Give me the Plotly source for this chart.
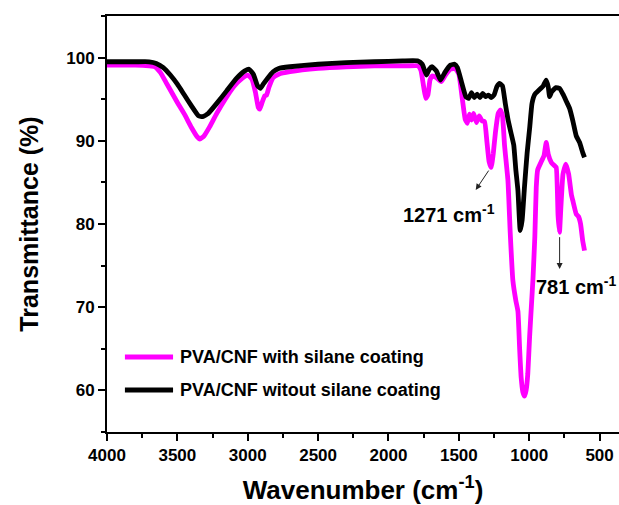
import plotly.graph_objects as go

# ---------------- data ----------------
wn_coated = [4000, 3800, 3700, 3660, 3620, 3580, 3540, 3500, 3450, 3400, 3360, 3340,
             3310, 3270, 3220, 3160, 3100, 3040, 3000, 2970, 2945, 2925, 2915, 2900,
             2880, 2866, 2850, 2820, 2780, 2700, 2500, 2300, 2100, 1900, 1790, 1770,
             1750, 1735, 1720, 1705, 1690, 1660, 1625, 1595, 1560, 1525, 1500, 1475,
             1455, 1440, 1425, 1410, 1395, 1375, 1355, 1335, 1317, 1300, 1285, 1270,
             1255, 1240, 1220, 1205, 1190, 1175, 1151, 1135, 1116, 1095, 1080, 1068,
             1057, 1045, 1033, 1022, 1010, 997, 985, 973, 960, 950, 940, 914, 895,
             879, 865, 843, 820, 808, 795, 785, 775, 760, 740, 720, 700, 690, 666,
             650, 635, 620, 607]
t_coated = [99.1, 99.1, 99.0, 98.9, 98.2, 97.0, 95.8, 94.6, 93.2, 91.6, 90.5, 90.2,
            90.6, 91.7, 93.3, 95.0, 96.5, 97.5, 97.9, 97.4, 95.8, 94.0, 93.8, 94.5,
            95.4, 95.5, 96.4, 97.6, 98.0, 98.3, 98.7, 98.9, 99.0, 99.0, 99.0, 98.5,
            96.5, 95.1, 95.5, 97.3, 97.8, 97.6, 97.1, 97.9, 98.6, 98.7, 98.0, 95.0,
            92.6, 92.1, 93.2, 92.5, 93.3, 92.2, 93.0, 92.4, 92.3, 89.8, 87.5, 86.8,
            88.5, 91.0, 93.3, 93.7, 93.0, 89.4, 85.2, 79.0, 73.2, 70.8, 69.5, 65.0,
            61.5, 59.8, 59.3, 60.0, 62.0, 66.5, 70.0, 73.5, 78.5, 84.4, 86.5, 87.5,
            88.2, 89.8, 88.4, 87.4, 87.0, 86.8, 81.0, 79.0, 82.0, 86.0, 87.2, 86.0,
            83.5, 82.8, 81.2, 80.9, 80.0, 78.0, 76.8]

wn_uncoated = [4000, 3800, 3700, 3650, 3600, 3550, 3500, 3450, 3400, 3350, 3320, 3280,
               3220, 3150, 3080, 3020, 2990, 2960, 2930, 2910, 2890, 2860, 2820, 2780,
               2700, 2500, 2300, 2100, 1900, 1790, 1760, 1730, 1710, 1690, 1660, 1630,
               1600, 1560, 1530, 1510, 1480, 1450, 1430, 1410, 1390, 1370, 1350, 1330,
               1310, 1290, 1270, 1250, 1230, 1210, 1190, 1170, 1150, 1130, 1110, 1095,
               1080, 1064, 1050, 1033, 1015, 997, 980, 960, 930, 900, 880, 865, 855,
               840, 810, 784, 760, 735, 713, 690, 666, 642, 620, 607]
t_uncoated = [99.5, 99.5, 99.5, 99.3, 98.8, 97.9, 96.8, 95.5, 94.2, 93.0, 92.9, 93.3,
              94.5, 96.0, 97.5, 98.4, 98.6, 98.0, 96.6, 96.3, 96.8, 97.5, 98.3, 98.7,
              98.9, 99.2, 99.4, 99.5, 99.6, 99.6, 99.2, 97.9, 98.6, 98.9, 98.4, 97.3,
              98.2, 99.1, 99.2, 98.8, 97.0, 95.3, 95.1, 95.8, 95.2, 95.6, 95.2, 95.7,
              95.3, 95.5, 95.2, 95.5, 96.5, 96.9, 96.6, 94.5, 92.5, 91.0, 89.5, 86.5,
              84.0, 79.2, 80.5, 84.6, 88.5, 91.5, 94.5, 95.6, 96.1, 96.6, 97.3, 96.5,
              95.3, 95.9, 96.4, 96.3, 95.6, 94.7, 93.9, 92.4, 90.6, 89.8, 88.6, 88.0]

series_names = ["PVA/CNF with silane coating", "PVA/CNF witout silane coating"]
series_colors = ["#FF00FF", "#000000"]

x_ticks = [4000, 3500, 3000, 2500, 2000, 1500, 1000, 500]
y_ticks = [60, 70, 80, 90, 100]

# peak labels: (text, text position, arrow head, arrow tail)
peak_labels = ["1271 cm<sup>-1</sup>", "781 cm<sup>-1</sup>"]
peak_text_xy = [(1572, 81.3), (663, 72.6)]
peak_arrow_head = [(1380, 84.1), (784, 74.6)]
peak_arrow_tail = [(1281, 86.6), (784, 78.6)]

FONT = "Liberation Sans, Arial, Helvetica, sans-serif"

fig = go.Figure()
for wn, t, name, col in [(wn_coated, t_coated, series_names[0], series_colors[0]),
                         (wn_uncoated, t_uncoated, series_names[1], series_colors[1])]:
    fig.add_trace(go.Scatter(x=wn, y=t, mode="lines", name=name, showlegend=False,
                             line=dict(color=col, width=4.8, shape="spline", smoothing=0.4)))

annotations = []
for txt, (tx, ty), (hx, hy), (ax_, ay_) in zip(peak_labels, peak_text_xy,
                                               peak_arrow_head, peak_arrow_tail):
    annotations.append(dict(x=tx, y=ty, xref="x", yref="y", text=txt, showarrow=False,
                            font=dict(family=FONT, size=20, color="black", weight="bold"),
                            xanchor="center", yanchor="middle"))
    annotations.append(dict(x=hx, y=hy, xref="x", yref="y", ax=ax_, ay=ay_,
                            axref="x", ayref="y", text="", showarrow=True,
                            arrowhead=2, arrowsize=1.2, arrowwidth=1, arrowcolor="#222"))

# manual legend (inside the plot, lower left)
legend_rows_y = [0.180, 0.101]
shapes = []
for name, col, yy in zip(series_names, series_colors, legend_rows_y):
    shapes.append(dict(type="line", xref="paper", yref="paper", x0=0.035, x1=0.129,
                       y0=yy, y1=yy, line=dict(color=col, width=5)))
    annotations.append(dict(x=0.139, y=yy, xref="paper", yref="paper", text=name,
                            showarrow=False, xanchor="left", yanchor="middle",
                            font=dict(family=FONT, size=18, color="black", weight="bold")))

fig.update_layout(
    width=619, height=505,
    margin=dict(l=107, r=0, t=16, b=73),
    paper_bgcolor="white", plot_bgcolor="white",
    font=dict(family=FONT, color="black"),
    annotations=annotations, shapes=shapes,
    showlegend=False,
)
fig.update_xaxes(
    range=[4000, 362], tickvals=x_ticks, ticktext=[str(v) for v in x_ticks],
    ticks="outside", ticklen=7, tickwidth=2, tickcolor="black",
    minor=dict(dtick=250, tick0=0, ticks="outside", ticklen=4, tickwidth=2, tickcolor="black"),
    showline=True, linewidth=2, linecolor="black", mirror=True,
    showgrid=False, zeroline=False,
    tickfont=dict(family=FONT, size=17, color="black", weight="bold"),
    title=dict(text="Wavenumber (cm<sup>-1</sup>)", standoff=16,
               font=dict(family=FONT, size=26, color="black", weight="bold")),
)
fig.update_yaxes(
    range=[55, 105], tickvals=y_ticks, ticktext=[str(v) for v in y_ticks],
    ticks="outside", ticklen=7, tickwidth=2, tickcolor="black",
    minor=dict(dtick=5, tick0=0, ticks="outside", ticklen=4, tickwidth=2, tickcolor="black"),
    showline=True, linewidth=2, linecolor="black", mirror=False,
    showgrid=False, zeroline=False,
    tickfont=dict(family=FONT, size=17, color="black", weight="bold"),
    title=dict(text="Transmittance (%)", standoff=20,
               font=dict(family=FONT, size=25, color="black", weight="bold")),
)

fig.write_html("out.html",
               config={"displayModeBar": False},
               post_script="document.body.style.margin='0';document.body.style.overflow='hidden';")
